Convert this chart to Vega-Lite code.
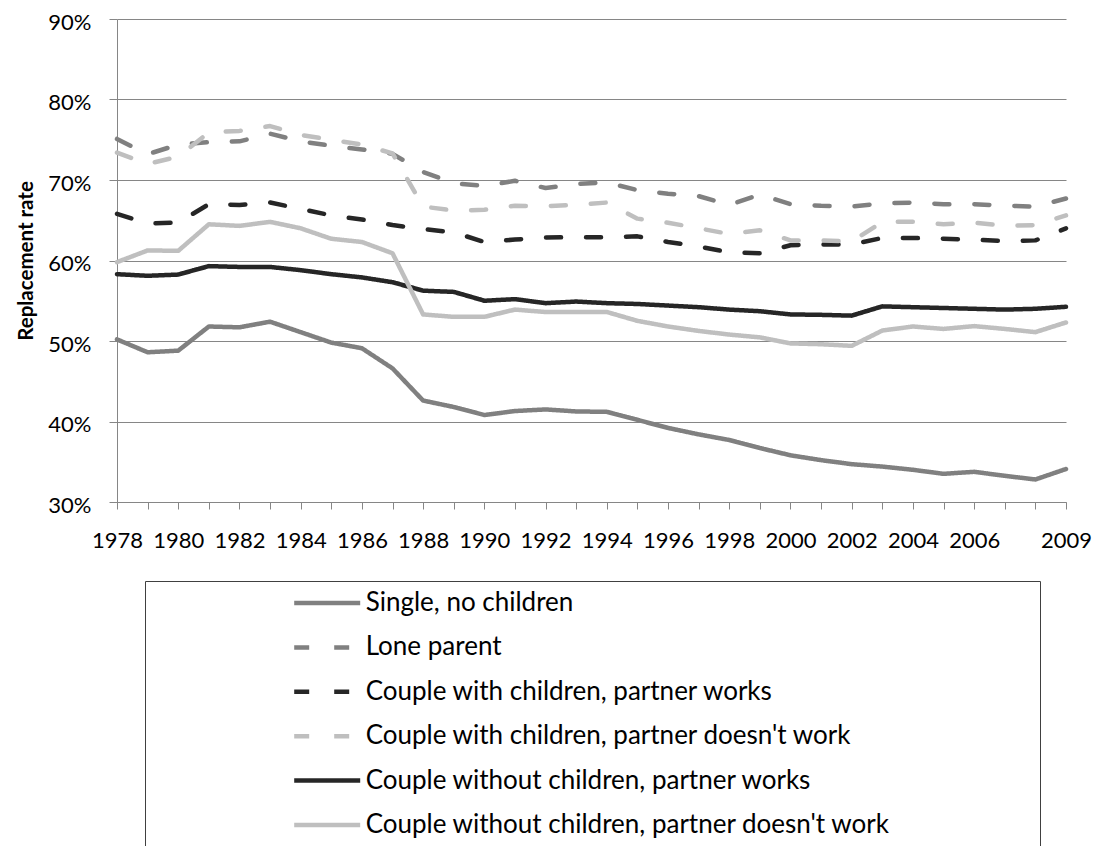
{
  "$schema": "https://vega.github.io/schema/vega-lite/v6.json",
  "autosize": {"type": "none"},
  "padding": {"left": 117, "top": 19, "right": 33, "bottom": 344},
  "width": 949,
  "height": 483,
  "background": "white",
  "config": {"font": "Lato", "view": {"stroke": null}},
  "data": {"values": [
    {"series":"Single, no children","year":1978,"value":50.2},{"series":"Single, no children","year":1979,"value":48.6},{"series":"Single, no children","year":1980,"value":48.8},{"series":"Single, no children","year":1981,"value":51.8},{"series":"Single, no children","year":1982,"value":51.7},{"series":"Single, no children","year":1983,"value":52.4},{"series":"Single, no children","year":1984,"value":51.1},{"series":"Single, no children","year":1985,"value":49.8},{"series":"Single, no children","year":1986,"value":49.1},{"series":"Single, no children","year":1987,"value":46.6},{"series":"Single, no children","year":1988,"value":42.6},{"series":"Single, no children","year":1989,"value":41.8},{"series":"Single, no children","year":1990,"value":40.8},{"series":"Single, no children","year":1991,"value":41.3},{"series":"Single, no children","year":1992,"value":41.5},{"series":"Single, no children","year":1993,"value":41.25},{"series":"Single, no children","year":1994,"value":41.2},{"series":"Single, no children","year":1995,"value":40.2},{"series":"Single, no children","year":1996,"value":39.2},{"series":"Single, no children","year":1997,"value":38.4},{"series":"Single, no children","year":1998,"value":37.7},{"series":"Single, no children","year":1999,"value":36.7},{"series":"Single, no children","year":2000,"value":35.8},{"series":"Single, no children","year":2001,"value":35.2},{"series":"Single, no children","year":2002,"value":34.7},{"series":"Single, no children","year":2003,"value":34.4},{"series":"Single, no children","year":2004,"value":34.0},{"series":"Single, no children","year":2005,"value":33.5},{"series":"Single, no children","year":2006,"value":33.75},{"series":"Single, no children","year":2007,"value":33.25},{"series":"Single, no children","year":2008,"value":32.8},{"series":"Single, no children","year":2009,"value":34.1},
    {"series":"Lone parent","year":1978,"value":75.1},{"series":"Lone parent","year":1979,"value":73.2},{"series":"Lone parent","year":1980,"value":74.4},{"series":"Lone parent","year":1981,"value":74.7},{"series":"Lone parent","year":1982,"value":74.8},{"series":"Lone parent","year":1983,"value":75.75},{"series":"Lone parent","year":1984,"value":74.8},{"series":"Lone parent","year":1985,"value":74.25},{"series":"Lone parent","year":1986,"value":73.8},{"series":"Lone parent","year":1987,"value":73.25},{"series":"Lone parent","year":1988,"value":71.0},{"series":"Lone parent","year":1989,"value":69.6},{"series":"Lone parent","year":1990,"value":69.25},{"series":"Lone parent","year":1991,"value":69.9},{"series":"Lone parent","year":1992,"value":69.0},{"series":"Lone parent","year":1993,"value":69.5},{"series":"Lone parent","year":1994,"value":69.7},{"series":"Lone parent","year":1995,"value":68.75},{"series":"Lone parent","year":1996,"value":68.3},{"series":"Lone parent","year":1997,"value":68.0},{"series":"Lone parent","year":1998,"value":66.9},{"series":"Lone parent","year":1999,"value":68.2},{"series":"Lone parent","year":2000,"value":67.0},{"series":"Lone parent","year":2001,"value":66.8},{"series":"Lone parent","year":2002,"value":66.7},{"series":"Lone parent","year":2003,"value":67.1},{"series":"Lone parent","year":2004,"value":67.2},{"series":"Lone parent","year":2005,"value":67.0},{"series":"Lone parent","year":2006,"value":67.0},{"series":"Lone parent","year":2007,"value":66.8},{"series":"Lone parent","year":2008,"value":66.7},{"series":"Lone parent","year":2009,"value":67.7},
    {"series":"Couple with children, partner works","year":1978,"value":65.8},{"series":"Couple with children, partner works","year":1979,"value":64.6},{"series":"Couple with children, partner works","year":1980,"value":64.7},{"series":"Couple with children, partner works","year":1981,"value":67.0},{"series":"Couple with children, partner works","year":1982,"value":66.9},{"series":"Couple with children, partner works","year":1983,"value":67.2},{"series":"Couple with children, partner works","year":1984,"value":66.4},{"series":"Couple with children, partner works","year":1985,"value":65.6},{"series":"Couple with children, partner works","year":1986,"value":65.1},{"series":"Couple with children, partner works","year":1987,"value":64.4},{"series":"Couple with children, partner works","year":1988,"value":63.9},{"series":"Couple with children, partner works","year":1989,"value":63.5},{"series":"Couple with children, partner works","year":1990,"value":62.3},{"series":"Couple with children, partner works","year":1991,"value":62.6},{"series":"Couple with children, partner works","year":1992,"value":62.85},{"series":"Couple with children, partner works","year":1993,"value":62.9},{"series":"Couple with children, partner works","year":1994,"value":62.9},{"series":"Couple with children, partner works","year":1995,"value":63.0},{"series":"Couple with children, partner works","year":1996,"value":62.3},{"series":"Couple with children, partner works","year":1997,"value":61.75},{"series":"Couple with children, partner works","year":1998,"value":61.0},{"series":"Couple with children, partner works","year":1999,"value":60.9},{"series":"Couple with children, partner works","year":2000,"value":61.9},{"series":"Couple with children, partner works","year":2001,"value":62.0},{"series":"Couple with children, partner works","year":2002,"value":62.0},{"series":"Couple with children, partner works","year":2003,"value":62.8},{"series":"Couple with children, partner works","year":2004,"value":62.8},{"series":"Couple with children, partner works","year":2005,"value":62.7},{"series":"Couple with children, partner works","year":2006,"value":62.6},{"series":"Couple with children, partner works","year":2007,"value":62.4},{"series":"Couple with children, partner works","year":2008,"value":62.5},{"series":"Couple with children, partner works","year":2009,"value":64.0},
    {"series":"Couple with children, partner doesn't work","year":1978,"value":73.4},{"series":"Couple with children, partner doesn't work","year":1979,"value":72.0},{"series":"Couple with children, partner doesn't work","year":1980,"value":72.9},{"series":"Couple with children, partner doesn't work","year":1981,"value":75.9},{"series":"Couple with children, partner doesn't work","year":1982,"value":76.1},{"series":"Couple with children, partner doesn't work","year":1983,"value":76.7},{"series":"Couple with children, partner doesn't work","year":1984,"value":75.6},{"series":"Couple with children, partner doesn't work","year":1985,"value":75.0},{"series":"Couple with children, partner doesn't work","year":1986,"value":74.4},{"series":"Couple with children, partner doesn't work","year":1987,"value":73.3},{"series":"Couple with children, partner doesn't work","year":1988,"value":66.7},{"series":"Couple with children, partner doesn't work","year":1989,"value":66.2},{"series":"Couple with children, partner doesn't work","year":1990,"value":66.3},{"series":"Couple with children, partner doesn't work","year":1991,"value":66.8},{"series":"Couple with children, partner doesn't work","year":1992,"value":66.75},{"series":"Couple with children, partner doesn't work","year":1993,"value":66.9},{"series":"Couple with children, partner doesn't work","year":1994,"value":67.2},{"series":"Couple with children, partner doesn't work","year":1995,"value":65.2},{"series":"Couple with children, partner doesn't work","year":1996,"value":64.7},{"series":"Couple with children, partner doesn't work","year":1997,"value":64.0},{"series":"Couple with children, partner doesn't work","year":1998,"value":63.3},{"series":"Couple with children, partner doesn't work","year":1999,"value":63.75},{"series":"Couple with children, partner doesn't work","year":2000,"value":62.5},{"series":"Couple with children, partner doesn't work","year":2001,"value":62.5},{"series":"Couple with children, partner doesn't work","year":2002,"value":62.35},{"series":"Couple with children, partner doesn't work","year":2003,"value":64.8},{"series":"Couple with children, partner doesn't work","year":2004,"value":64.8},{"series":"Couple with children, partner doesn't work","year":2005,"value":64.5},{"series":"Couple with children, partner doesn't work","year":2006,"value":64.7},{"series":"Couple with children, partner doesn't work","year":2007,"value":64.3},{"series":"Couple with children, partner doesn't work","year":2008,"value":64.4},{"series":"Couple with children, partner doesn't work","year":2009,"value":65.6},
    {"series":"Couple without children, partner works","year":1978,"value":58.3},{"series":"Couple without children, partner works","year":1979,"value":58.1},{"series":"Couple without children, partner works","year":1980,"value":58.25},{"series":"Couple without children, partner works","year":1981,"value":59.3},{"series":"Couple without children, partner works","year":1982,"value":59.2},{"series":"Couple without children, partner works","year":1983,"value":59.2},{"series":"Couple without children, partner works","year":1984,"value":58.8},{"series":"Couple without children, partner works","year":1985,"value":58.3},{"series":"Couple without children, partner works","year":1986,"value":57.9},{"series":"Couple without children, partner works","year":1987,"value":57.3},{"series":"Couple without children, partner works","year":1988,"value":56.25},{"series":"Couple without children, partner works","year":1989,"value":56.1},{"series":"Couple without children, partner works","year":1990,"value":55.0},{"series":"Couple without children, partner works","year":1991,"value":55.2},{"series":"Couple without children, partner works","year":1992,"value":54.7},{"series":"Couple without children, partner works","year":1993,"value":54.9},{"series":"Couple without children, partner works","year":1994,"value":54.7},{"series":"Couple without children, partner works","year":1995,"value":54.6},{"series":"Couple without children, partner works","year":1996,"value":54.4},{"series":"Couple without children, partner works","year":1997,"value":54.2},{"series":"Couple without children, partner works","year":1998,"value":53.9},{"series":"Couple without children, partner works","year":1999,"value":53.7},{"series":"Couple without children, partner works","year":2000,"value":53.3},{"series":"Couple without children, partner works","year":2001,"value":53.25},{"series":"Couple without children, partner works","year":2002,"value":53.15},{"series":"Couple without children, partner works","year":2003,"value":54.3},{"series":"Couple without children, partner works","year":2004,"value":54.2},{"series":"Couple without children, partner works","year":2005,"value":54.1},{"series":"Couple without children, partner works","year":2006,"value":54.0},{"series":"Couple without children, partner works","year":2007,"value":53.9},{"series":"Couple without children, partner works","year":2008,"value":54.0},{"series":"Couple without children, partner works","year":2009,"value":54.25},
    {"series":"Couple without children, partner doesn't work","year":1978,"value":59.8},{"series":"Couple without children, partner doesn't work","year":1979,"value":61.25},{"series":"Couple without children, partner doesn't work","year":1980,"value":61.2},{"series":"Couple without children, partner doesn't work","year":1981,"value":64.5},{"series":"Couple without children, partner doesn't work","year":1982,"value":64.3},{"series":"Couple without children, partner doesn't work","year":1983,"value":64.8},{"series":"Couple without children, partner doesn't work","year":1984,"value":64.0},{"series":"Couple without children, partner doesn't work","year":1985,"value":62.7},{"series":"Couple without children, partner doesn't work","year":1986,"value":62.3},{"series":"Couple without children, partner doesn't work","year":1987,"value":60.9},{"series":"Couple without children, partner doesn't work","year":1988,"value":53.3},{"series":"Couple without children, partner doesn't work","year":1989,"value":53.0},{"series":"Couple without children, partner doesn't work","year":1990,"value":53.0},{"series":"Couple without children, partner doesn't work","year":1991,"value":53.9},{"series":"Couple without children, partner doesn't work","year":1992,"value":53.6},{"series":"Couple without children, partner doesn't work","year":1993,"value":53.6},{"series":"Couple without children, partner doesn't work","year":1994,"value":53.6},{"series":"Couple without children, partner doesn't work","year":1995,"value":52.5},{"series":"Couple without children, partner doesn't work","year":1996,"value":51.8},{"series":"Couple without children, partner doesn't work","year":1997,"value":51.25},{"series":"Couple without children, partner doesn't work","year":1998,"value":50.8},{"series":"Couple without children, partner doesn't work","year":1999,"value":50.45},{"series":"Couple without children, partner doesn't work","year":2000,"value":49.7},{"series":"Couple without children, partner doesn't work","year":2001,"value":49.6},{"series":"Couple without children, partner doesn't work","year":2002,"value":49.4},{"series":"Couple without children, partner doesn't work","year":2003,"value":51.3},{"series":"Couple without children, partner doesn't work","year":2004,"value":51.8},{"series":"Couple without children, partner doesn't work","year":2005,"value":51.5},{"series":"Couple without children, partner doesn't work","year":2006,"value":51.85},{"series":"Couple without children, partner doesn't work","year":2007,"value":51.5},{"series":"Couple without children, partner doesn't work","year":2008,"value":51.1},{"series":"Couple without children, partner doesn't work","year":2009,"value":52.3}
  ]},
  "mark": {"type": "line", "strokeWidth": 4.5, "strokeCap": "round", "strokeJoin": "round"},
  "encoding": {
    "x": {
      "field": "year", "type": "ordinal", "sort": "ascending",
      "scale": {"type": "point", "padding": 0},
      "axis": {"title": null, "labelAngle": 0, "labelOverlap": false,
        "labelExpr": "datum.value == 2009 || (datum.value <= 2006 && datum.value % 2 == 0) ? datum.label : ''",
        "labelFontSize": 22, "labelColor": "#000000", "labelPadding": 21,
        "tickSize": 7, "tickColor": "#868686", "domainColor": "#868686", "grid": false}
    },
    "y": {
      "field": "value", "type": "quantitative",
      "scale": {"domain": [30, 90], "nice": false, "zero": false},
      "axis": {"title": "Replacement rate", "values": [30, 40, 50, 60, 70, 80, 90],
        "labelExpr": "datum.value + '%'", "labelFontSize": 22, "labelColor": "#000000",
        "labelPadding": 18, "labelOffset": 3, "tickSize": 8, "tickColor": "#868686",
        "domainColor": "#868686", "grid": true, "gridColor": "#868686",
        "titleFontSize": 20.5, "titleFontWeight": "bold", "titleColor": "#000000",
        "titleX": -85, "titleY": 241.5, "titleAngle": 270, "titleBaseline": "alphabetic", "titleAlign": "center"}
    },
    "color": {
      "field": "series", "type": "nominal",
      "scale": {
        "domain": ["Single, no children", "Lone parent", "Couple with children, partner works", "Couple with children, partner doesn't work", "Couple without children, partner works", "Couple without children, partner doesn't work"],
        "range": ["#808080", "#808080", "#262626", "#bfbfbf", "#262626", "#bfbfbf"]
      },
      "legend": {"title": "\u2003", "orient": "none", "legendX": 28, "legendY": 562, "direction": "vertical", "columns": 1,
        "padding": 8, "strokeColor": "#404040", "fillColor": "white", "titleOrient": "right", "titlePadding": 141,
        "titleFontSize": 26, "labelFontSize": 26, "labelColor": "#000000", "symbolOffset": 138.7, "labelOffset": 3, "labelLimit": 2000,
        "symbolType": "stroke", "symbolSize": 4356, "symbolStrokeWidth": 4.5, "clipHeight": 28, "rowPadding": 16.4}
    },
    "strokeDash": {
      "field": "series", "type": "nominal",
      "scale": {
        "domain": ["Single, no children", "Lone parent", "Couple with children, partner works", "Couple with children, partner doesn't work", "Couple without children, partner works", "Couple without children, partner doesn't work"],
        "range": [[1, 0], [15, 25], [15, 25], [15, 25], [1, 0], [1, 0]]
      },
      "legend": {"title": "\u2003", "orient": "none", "legendX": 28, "legendY": 562, "direction": "vertical", "columns": 1,
        "padding": 8, "strokeColor": "#404040", "fillColor": "white", "titleOrient": "right", "titlePadding": 141,
        "titleFontSize": 26, "labelFontSize": 26, "labelColor": "#000000", "symbolOffset": 138.7, "labelOffset": 3, "labelLimit": 2000,
        "symbolType": "stroke", "symbolSize": 4356, "symbolStrokeWidth": 4.5, "clipHeight": 28, "rowPadding": 16.4}
    }
  }
}
